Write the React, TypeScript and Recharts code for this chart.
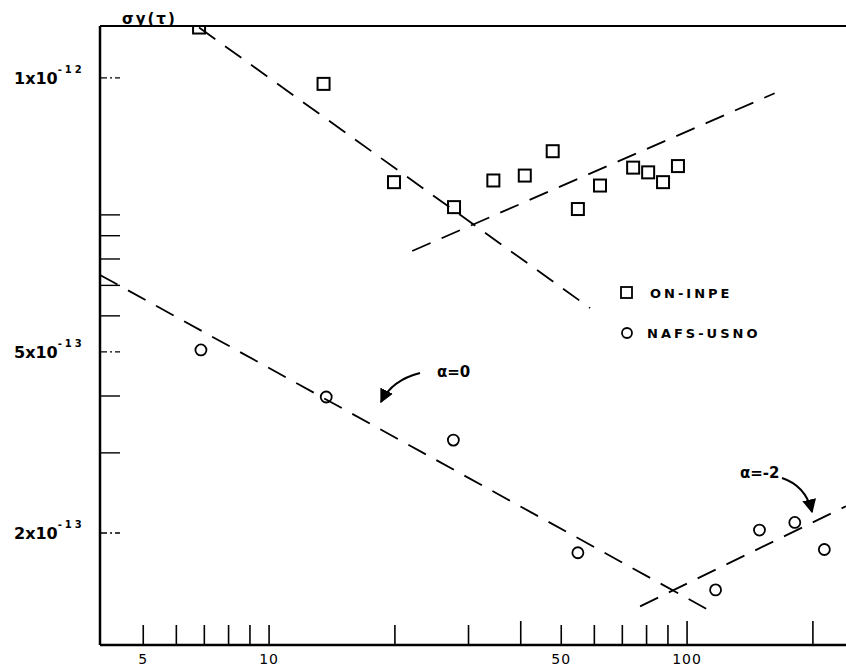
import React from "react";
import { ComposedChart, Scatter, Line, XAxis, YAxis, ReferenceLine } from "recharts";

// sigma values are in units of 1e-13, tau in the plot's x units
const onInpeTau = [6.8, 13.5, 19.9, 27.7, 34.4, 40.9, 47.7, 54.8, 61.9, 74.3, 80.7, 87.6, 95.1];
const onInpeSigma = [25.8, 19.4, 11.8, 10.4, 11.9, 12.2, 13.8, 10.3, 11.6, 12.7, 12.4, 11.8, 12.8];

const nafsTau = [6.87, 13.7, 27.6, 54.8, 117, 149, 181, 213];
const nafsSigma = [5.05, 3.98, 3.2, 1.81, 1.5, 2.03, 2.11, 1.84];

// hand-drawn dashed fit lines (two end points each)
const onFallTau = [6.8, 58.6];
const onFallSigma = [25.8, 6.24];
const onRiseTau = [22.0, 162];
const onRiseSigma = [8.33, 18.5];
const alpha0Tau = [3.94, 115];
const alpha0Sigma = [7.38, 1.34];
const alphaM2Tau = [77.2, 240];
const alphaM2Sigma = [1.38, 2.29];

const xTicks = [5, 6, 7, 8, 9, 10, 20, 30, 40, 50, 60, 70, 80, 90, 100, 200];
const xTickLabels: Record<number, string> = { 5: "5", 10: "10", 50: "50", 100: "100" };
const yTicks = [2, 3, 4, 5, 6, 7, 8, 9, 10, 20];
const yTickLabels: Record<number, [string, string]> = {
  2: ["2x10", "-13"],
  5: ["5x10", "-13"],
  20: ["1x10", "-12"],
};

const X_DOMAIN = [3.94, 240];
const Y_DOMAIN = [1.135, 26.0];

const FONT = "'DejaVu Sans', sans-serif";

const zip = (xs: number[], ys: number[]) => xs.map((x, i) => ({ x, y: ys[i] }));

const onInpe = zip(onInpeTau, onInpeSigma);
const nafs = zip(nafsTau, nafsSigma);
const onFall = zip(onFallTau, onFallSigma);
const onRise = zip(onRiseTau, onRiseSigma);
const alpha0 = zip(alpha0Tau, alpha0Sigma);
const alphaM2 = zip(alphaM2Tau, alphaM2Sigma);

const SquareDot = (p: any) =>
  p.cx == null ? null : (
    <rect x={p.cx - 6} y={p.cy - 6} width={12} height={12} fill="none" stroke="#000" strokeWidth={2} />
  );

const CircleDot = (p: any) =>
  p.cx == null ? null : <circle cx={p.cx} cy={p.cy} r={5.5} fill="none" stroke="#000" strokeWidth={1.8} />;

const XTick = (props: any) => {
  const { x, y, payload } = props;
  const v = payload.value;
  const len = v === 40 || v === 100 || v === 200 ? 24 : 20;
  const label = xTickLabels[v];
  return (
    <g>
      <line x1={x} x2={x} y1={y} y2={y - len} stroke="#000" strokeWidth={1.6} />
      {label && (
        <text x={x} y={y + 19} textAnchor="middle" fontSize={14} fontFamily={FONT} letterSpacing={1}>
          {label}
        </text>
      )}
    </g>
  );
};

const YTick = (props: any) => {
  const { x, y, payload } = props;
  const label = yTickLabels[payload.value];
  return (
    <g>
      <line
        x1={x}
        x2={x + 20}
        y1={y}
        y2={y}
        stroke="#000"
        strokeWidth={1.4}
        strokeDasharray={label ? "7 3 2 3" : undefined}
      />
      {label && (
        <text x={x - 86} y={y + 6} fontSize={16} fontFamily={FONT} fontWeight="bold">
          {label[0]}
          <tspan dy={-11} fontSize={10} letterSpacing={3}>
            {label[1]}
          </tspan>
        </text>
      )}
    </g>
  );
};

const dash = { stroke: "#000", strokeWidth: 1.8, strokeDasharray: "20 12" };

export default function App() {
  return (
    <div style={{ position: "absolute", left: 0, top: 0, width: 846, height: 669, background: "#fff" }}>
      <ComposedChart width={846} height={669} margin={{ top: 26, right: 0, left: 0, bottom: 0 }}>
        <XAxis
          dataKey="x"
          type="number"
          scale="log"
          domain={X_DOMAIN}
          allowDataOverflow
          ticks={xTicks}
          interval={0}
          tickSize={0}
          tickMargin={0}
          tick={<XTick />}
          height={24}
          axisLine={{ stroke: "#000", strokeWidth: 2.5 }}
        />
        <YAxis
          dataKey="y"
          type="number"
          scale="log"
          domain={Y_DOMAIN}
          allowDataOverflow
          ticks={yTicks}
          interval={0}
          tickSize={0}
          tickMargin={0}
          tick={<YTick />}
          width={100}
          axisLine={{ stroke: "#000", strokeWidth: 2.5 }}
        />
        <ReferenceLine y={Y_DOMAIN[1]} stroke="#000" strokeWidth={2} />
        <Line data={onFall} dataKey="y" dot={false} isAnimationActive={false} legendType="none" {...dash} />
        <Line data={onRise} dataKey="y" dot={false} isAnimationActive={false} legendType="none" {...dash} />
        <Line data={alpha0} dataKey="y" dot={false} isAnimationActive={false} legendType="none" {...dash} />
        <Line data={alphaM2} dataKey="y" dot={false} isAnimationActive={false} legendType="none" {...dash} />
        <Scatter name="ON-INPE" data={onInpe} dataKey="y" shape={SquareDot} isAnimationActive={false} />
        <Scatter name="NAFS-USNO" data={nafs} dataKey="y" shape={CircleDot} isAnimationActive={false} />
      </ComposedChart>

      <svg
        width={846}
        height={669}
        style={{ position: "absolute", left: 0, top: 0, pointerEvents: "none" }}
        fontFamily={FONT}
        fontWeight="bold"
      >
        <defs>
          <marker id="arrow" viewBox="0 0 10 10" refX="9" refY="5" markerWidth="7" markerHeight="7" orient="auto">
            <path d="M0,0 L10,5 L0,10 z" fill="#000" />
          </marker>
        </defs>
        <text x={122} y={24} fontSize={15} letterSpacing={2}>
          σy(τ)
        </text>

        {/* legend */}
        <rect x={621} y={287} width={11} height={11} fill="none" stroke="#000" strokeWidth={1.8} />
        <text x={650} y={298} fontSize={13} letterSpacing={3}>
          ON-INPE
        </text>
        <circle cx={627} cy={333} r={5} fill="none" stroke="#000" strokeWidth={1.8} />
        <text x={647} y={338} fontSize={13} letterSpacing={3}>
          NAFS-USNO
        </text>

        {/* slope annotations */}
        <text x={437} y={377} fontSize={15}>
          α=0
        </text>
        <path d="M420,373 Q392,380 381,402" fill="none" stroke="#000" strokeWidth={2} markerEnd="url(#arrow)" />
        <text x={740} y={478} fontSize={15}>
          α=-2
        </text>
        <path d="M782,478 Q806,486 812,512" fill="none" stroke="#000" strokeWidth={2} markerEnd="url(#arrow)" />
      </svg>
    </div>
  );
}
